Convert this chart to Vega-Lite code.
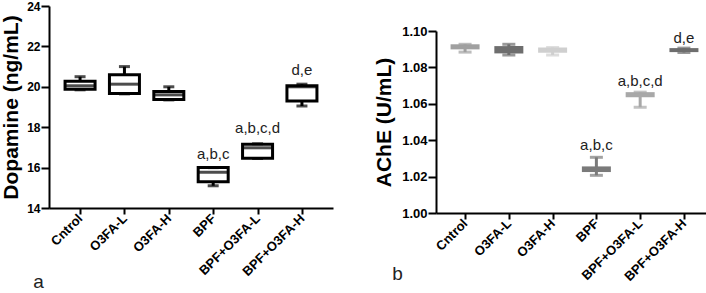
{
  "$schema": "https://vega.github.io/schema/vega-lite/v6.json",
  "padding": {"left": 0, "top": 0, "right": 0, "bottom": 0},
  "spacing": 40,
  "config": {
    "view": {"stroke": null},
    "font": "Liberation Sans",
    "axis": {
      "grid": false,
      "domainColor": "#000",
      "domainWidth": 2,
      "tickColor": "#000",
      "tickWidth": 2,
      "labelColor": "#000",
      "labelFont": "Liberation Sans",
      "labelFontWeight": "bold",
      "labelOverlap": false,
      "titleFont": "Liberation Sans",
      "titleColor": "#000"
    }
  },
  "datasets": {
    "dop": [
      {"group": "Cntrol", "min": 19.85, "q1": 19.88, "median": 20.05, "q3": 20.28, "max": 20.5, "sig": null, "sigy": null},
      {"group": "O3FA-L", "min": 19.65, "q1": 19.67, "median": 20.13, "q3": 20.6, "max": 21.0, "sig": null, "sigy": null},
      {"group": "O3FA-H", "min": 19.35, "q1": 19.37, "median": 19.6, "q3": 19.77, "max": 20.0, "sig": null, "sigy": null},
      {"group": "BPF", "min": 15.1, "q1": 15.3, "median": 15.77, "q3": 16.0, "max": 16.0, "sig": "a,b,c", "sigy": 16.68},
      {"group": "BPF+O3FA-L", "min": 16.45, "q1": 16.46, "median": 16.98, "q3": 17.15, "max": 17.18, "sig": "a,b,c,d", "sigy": 17.97},
      {"group": "BPF+O3FA-H", "min": 19.05, "q1": 19.3, "median": 20.0, "q3": 20.05, "max": 20.13, "sig": "d,e", "sigy": 20.82}
    ],
    "ache": [
      {"group": "Cntrol", "min": 1.0884, "q1": 1.0899, "median": 1.0905, "q3": 1.0927, "max": 1.0927, "sig": null, "sigy": null},
      {"group": "O3FA-L", "min": 1.0868, "q1": 1.0877, "median": 1.0895, "q3": 1.0917, "max": 1.0927, "sig": null, "sigy": null},
      {"group": "O3FA-H", "min": 1.0868, "q1": 1.0881, "median": 1.089, "q3": 1.0909, "max": 1.0909, "sig": null, "sigy": null},
      {"group": "BPF", "min": 1.0207, "q1": 1.0225, "median": 1.024, "q3": 1.0256, "max": 1.0306, "sig": "a,b,c", "sigy": 1.0376},
      {"group": "BPF+O3FA-L", "min": 1.0581, "q1": 1.0636, "median": 1.065, "q3": 1.0664, "max": 1.0664, "sig": "a,b,c,d", "sigy": 1.0725},
      {"group": "BPF+O3FA-H", "min": 1.0882, "q1": 1.0884, "median": 1.089, "q3": 1.0906, "max": 1.0906, "sig": "d,e", "sigy": 1.0964}
    ]
  },
  "hconcat": [
    {
      "width": 284,
      "height": 202,
      "data": {"name": "dop"},
      "encoding": {
        "x": {
          "field": "group", "type": "nominal", "sort": null,
          "scale": {"type": "point", "padding": 0.7},
          "axis": {
            "title": "a", "titleX": -11, "titleY": 79, "titleAlign": "center", "titleBaseline": "alphabetic",
            "titleFontSize": 19, "titleFontWeight": "normal", "titleColor": "#222",
            "labelAngle": -45, "labelAlign": "right", "labelBaseline": "middle", "labelFontSize": 13,
            "tickSize": 6, "labelPadding": 2
          }
        }
      },
      "layer": [
        {
          "mark": {"type": "rule", "strokeWidth": 3, "color": "#000"},
          "encoding": {
            "y": {
              "field": "min", "type": "quantitative",
              "scale": {"domain": [14, 24], "nice": false, "zero": false},
              "axis": {
                "title": "Dopamine (ng/mL)", "titleFontSize": 21, "titleFontWeight": "bold", "titlePadding": 5,
                "values": [14, 16, 18, 20, 22, 24], "tickCount": 10, "labelFontSize": 12, "tickSize": 8, "labelPadding": 1,
                "labelOverlap": false, "minExtent": 23, "maxExtent": 23
              }
            },
            "y2": {"field": "max"}
          }
        },
        {
          "mark": {"type": "bar", "size": 30, "fill": "#fff", "stroke": "#000", "strokeWidth": 3},
          "encoding": {"y": {"field": "q1", "type": "quantitative"}, "y2": {"field": "q3"}}
        },
        {
          "mark": {"type": "tick", "size": 30, "thickness": 3, "color": "#000"},
          "encoding": {"y": {"field": "median", "type": "quantitative"}}
        },
        {
          "mark": {"type": "tick", "size": 11, "thickness": 3, "color": "#000"},
          "encoding": {"y": {"field": "min", "type": "quantitative"}}
        },
        {
          "mark": {"type": "tick", "size": 11, "thickness": 3, "color": "#000"},
          "encoding": {"y": {"field": "max", "type": "quantitative"}}
        },
        {
          "transform": [{"filter": "datum.sig != null"}],
          "mark": {"type": "text", "fontSize": 15, "color": "#222"},
          "encoding": {"y": {"field": "sigy", "type": "quantitative"}, "text": {"field": "sig"}}
        }
      ]
    },
    {
      "spacing": 13,
      "vconcat": [
        {
          "width": 277,
          "height": 1,
          "data": {"values": [{}]},
          "mark": {"type": "text", "text": ""}
        },
        {
          "width": 277,
          "height": 182,
          "data": {"name": "ache"},
          "encoding": {
            "x": {
              "field": "group", "type": "nominal", "sort": null,
              "scale": {"type": "point", "padding": 0.664},
              "axis": {
                "title": "b", "titleX": -39, "titleY": 66, "titleAlign": "center", "titleBaseline": "alphabetic",
                "titleFontSize": 19, "titleFontWeight": "normal", "titleColor": "#222",
                "labelAngle": -45, "labelAlign": "right", "labelBaseline": "middle", "labelFontSize": 13,
                "tickSize": 6, "labelPadding": 2
              }
            },
            "color": {
              "field": "group", "type": "nominal", "legend": null,
              "scale": {
                "domain": ["Cntrol", "O3FA-L", "O3FA-H", "BPF", "BPF+O3FA-L", "BPF+O3FA-H"],
                "range": ["#a0a0a0", "#6e6e6e", "#cfcfcf", "#7a7a7a", "#a8a8a8", "#6e6e6e"]
              }
            }
          },
          "layer": [
            {
              "mark": {"type": "rule", "strokeWidth": 3},
              "encoding": {
                "y": {
                  "field": "min", "type": "quantitative",
                  "scale": {"domain": [1.0, 1.1], "nice": false, "zero": false},
                  "axis": {
                    "title": "AChE (U/mL)", "titleFontSize": 21, "titleFontWeight": "bold", "titlePadding": 7,
                    "values": [1.0, 1.02, 1.04, 1.06, 1.08, 1.1], "tickCount": 10, "format": ".2f", "labelFontSize": 13,
                    "labelOverlap": false,
                    "tickSize": 8, "labelPadding": 1, "minExtent": 35, "maxExtent": 35
                  }
                },
                "y2": {"field": "max"}
              }
            },
            {
              "mark": {"type": "bar", "size": 29},
              "encoding": {"y": {"field": "q1", "type": "quantitative"}, "y2": {"field": "q3"}}
            },
            {
              "mark": {"type": "tick", "size": 13, "thickness": 3},
              "encoding": {"y": {"field": "min", "type": "quantitative"}}
            },
            {
              "mark": {"type": "tick", "size": 13, "thickness": 3},
              "encoding": {"y": {"field": "max", "type": "quantitative"}}
            },
            {
              "transform": [{"filter": "datum.sig != null"}],
              "mark": {"type": "text", "fontSize": 15},
              "encoding": {"y": {"field": "sigy", "type": "quantitative"}, "text": {"field": "sig"}, "color": {"value": "#222"}}
            }
          ]
        }
      ]
    }
  ]
}
